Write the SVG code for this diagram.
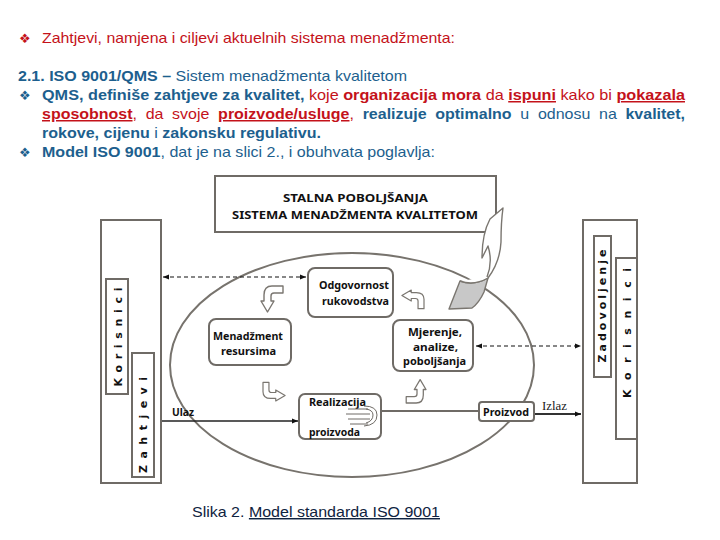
<svg xmlns="http://www.w3.org/2000/svg" xmlns:xlink="http://www.w3.org/1999/xlink" width="720" height="540" viewBox="0 0 720 540">
<style>
.hd{font-family:"Liberation Sans",Arial,sans-serif;font-size:15px}
.r{fill:#c4121a}
.b{fill:#1d5f8e}
.bd{font-weight:bold}
.u{text-decoration:underline}
.bul{font-family:"DejaVu Sans",sans-serif;font-size:13px}
.box{fill:#fff;stroke:#6f6b66;stroke-width:2}
.rbox{fill:#fff;stroke:#6f6b66;stroke-width:2}
.lb{font-family:"Noto Sans","DejaVu Sans",sans-serif;font-weight:bold;font-size:11px;fill:#111}
.vt{font-family:"DejaVu Sans",sans-serif;font-weight:bold;font-size:11px;fill:#111}
.ba{fill:#fff;stroke:#7a7670;stroke-width:1.4;stroke-linejoin:round}
.dash{stroke:#111;stroke-width:1.2;stroke-dasharray:4 3;fill:none}
</style>
<defs>
<marker id="ah" viewBox="0 0 10 10" refX="10" refY="5" markerWidth="6" markerHeight="6" orient="auto-start-reverse" markerUnits="userSpaceOnUse">
<path d="M0 1 L10 5 L0 9 Z" fill="#111"/>
</marker>
<path id="barrow" d="M22 0 L11 0 Q3 0 3 9 L3 15 L0 15 L6.5 26 L13 15 L10 15 L10 10 Q10 7 13 7 L22 7 Z"/>
</defs>

<g id="heading">
<text class="bul r" x="19" y="43">❖</text>
<text class="hd r" x="42" y="43" textLength="413" lengthAdjust="spacingAndGlyphs">Zahtjevi, namjena i ciljevi aktuelnih sistema menadžmenta:</text>
<text class="hd b" x="18" y="81" textLength="389" lengthAdjust="spacingAndGlyphs"><tspan class="bd">2.1. ISO 9001/QMS –</tspan> Sistem menadžmenta kvalitetom</text>
<text class="bul b" x="19" y="100">❖</text>
<text class="hd" x="42" y="100" textLength="643" lengthAdjust="spacingAndGlyphs"><tspan class="b bd">QMS, definiše zahtjeve za kvalitet,</tspan><tspan class="r"> koje </tspan><tspan class="r bd">organizacija mora</tspan><tspan class="r"> da </tspan><tspan class="r bd u">ispuni</tspan><tspan class="r"> kako bi </tspan><tspan class="r bd u">pokazala</tspan></text>
<text class="hd" x="42" y="119" textLength="643" lengthAdjust="spacingAndGlyphs" word-spacing="4"><tspan class="r bd u">sposobnost</tspan><tspan class="r">, da svoje </tspan><tspan class="r bd u">proizvode/usluge</tspan><tspan class="r">,</tspan><tspan class="b bd"> realizuje optimalno</tspan><tspan class="b"> u odnosu na </tspan><tspan class="b bd">kvalitet,</tspan></text>
<text class="hd b" x="42" y="138" textLength="279" lengthAdjust="spacingAndGlyphs"><tspan class="bd">rokove, cijenu</tspan> i <tspan class="bd">zakonsku regulativu.</tspan></text>
<text class="bul b" x="19" y="157">❖</text>
<text class="hd b" x="42" y="157" textLength="393" lengthAdjust="spacingAndGlyphs"><tspan class="bd">Model ISO 9001</tspan>, dat je na slici 2., i obuhvata poglavlja:</text>
</g>

<g id="ellipse">
<ellipse cx="352" cy="365" rx="182" ry="112" fill="none" stroke="#77736d" stroke-width="2"/>
</g>

<g id="connectors">
<line class="dash" x1="163" y1="277" x2="306" y2="277" marker-start="url(#ah)" marker-end="url(#ah)"/>
<line class="dash" x1="476" y1="346" x2="581" y2="346" marker-start="url(#ah)" marker-end="url(#ah)"/>
<line x1="161" y1="421" x2="298" y2="421" stroke="#222" stroke-width="1.3" marker-end="url(#ah)"/>
<line x1="381" y1="411" x2="479" y2="411" stroke="#6f6b66" stroke-width="2"/>
<line x1="534" y1="414" x2="581" y2="414" stroke="#333" stroke-width="2" marker-end="url(#ah)"/>
<use xlink:href="#barrow" class="ba" transform="translate(261,286)"/>
<use xlink:href="#barrow" class="ba" transform="translate(424,290) rotate(90) scale(0.85)"/>
<use xlink:href="#barrow" class="ba" transform="translate(263,401) rotate(-90) scale(0.85)"/>
<use xlink:href="#barrow" class="ba" transform="translate(426,403) rotate(180) scale(0.9)"/>
</g>

<g id="top-box">
<rect class="box" x="215" y="176" width="281" height="56"/>
<text class="lb" x="355.5" y="202" text-anchor="middle" font-size="12.5" textLength="145" lengthAdjust="spacingAndGlyphs">STALNA POBOLJŠANJA</text>
<text class="lb" x="355" y="219" text-anchor="middle" font-size="12.5" textLength="246" lengthAdjust="spacingAndGlyphs">SISTEMA MENADŽMENTA KVALITETOM</text>
</g>

<g id="big-arrow">
<path d="M460 281 Q474 286 488 278 L484 292 Q479 303 472 308 L449 309 Z" fill="#c8c8c8" stroke="#7a7670" stroke-width="1.4" stroke-linejoin="round"/>
<path d="M460 281 Q474 286 488 278 Q500 262 501 242 Q501 222 503 208 L490 219 Q482 234 482 258 L488 246 Q493 262 487 277" fill="#fff" stroke="#7a7670" stroke-width="1.4" stroke-linejoin="round"/>
</g>

<g id="left-users">
<rect class="box" x="101" y="220" width="60" height="263"/>
<rect class="box" x="106" y="279" width="22" height="115"/>
<rect class="box" x="132" y="353" width="22" height="124"/>
<text class="vt" transform="translate(122,337) rotate(-90)" text-anchor="middle" textLength="99" lengthAdjust="spacing">Korisnici</text>
<text class="vt" transform="translate(147,425) rotate(-90)" text-anchor="middle" textLength="96" lengthAdjust="spacing">Zahtjevi</text>
</g>

<g id="right-users">
<rect class="box" x="583" y="220" width="54" height="263"/>
<rect class="box" x="594" y="236" width="17" height="141"/>
<rect class="box" x="616" y="258" width="21" height="181"/>
<text class="vt" transform="translate(606,306) rotate(-90)" text-anchor="middle" textLength="113" lengthAdjust="spacing">Zadovoljenje</text>
<text class="vt" transform="translate(631,333) rotate(-90)" text-anchor="middle" textLength="130" lengthAdjust="spacing">Korisnici</text>
</g>

<g id="odgovornost">
<rect class="rbox" x="308" y="268" width="85" height="49" rx="7"/>
<text class="lb" x="389" y="289" text-anchor="end" textLength="70" lengthAdjust="spacingAndGlyphs">Odgovornost</text>
<text class="lb" x="389" y="305" text-anchor="end" textLength="67" lengthAdjust="spacingAndGlyphs">rukovodstva</text>
</g>

<g id="menadzment">
<rect class="rbox" x="209" y="319" width="82" height="46" rx="7"/>
<text class="lb" x="248" y="340" text-anchor="middle" textLength="70" lengthAdjust="spacingAndGlyphs">Menadžment</text>
<text class="lb" x="248.5" y="355" text-anchor="middle" textLength="55" lengthAdjust="spacingAndGlyphs">resursima</text>
</g>

<g id="mjerenje">
<rect class="rbox" x="393" y="320" width="80" height="51" rx="7"/>
<text class="lb" x="435" y="336" text-anchor="middle" textLength="54" lengthAdjust="spacingAndGlyphs">Mjerenje,</text>
<text class="lb" x="435.5" y="351" text-anchor="middle" textLength="45" lengthAdjust="spacingAndGlyphs">analize,</text>
<text class="lb" x="434.5" y="365" text-anchor="middle" textLength="63" lengthAdjust="spacingAndGlyphs">poboljšanja</text>
</g>

<g id="realizacija">
<rect class="rbox" x="299" y="394" width="82" height="45" rx="6"/>
<text class="lb" x="309" y="406" textLength="57" lengthAdjust="spacingAndGlyphs">Realizacija</text>
<text class="lb" x="309" y="436" textLength="51" lengthAdjust="spacingAndGlyphs">proizvoda</text>
<g fill="none" stroke="#6f6b66" stroke-width="1">
<path d="M348 409 L368 409 M346 414 L370 414 M348 419 L370 419 M350 424 L368 424"/>
<path d="M364 406 Q377 406 377 415 Q377 425 364 426"/>
<path d="M366 409 Q373 410 373 415 Q373 421 366 423"/>
</g>
</g>

<g id="proizvod">
<rect class="rbox" x="479" y="402" width="55" height="19" rx="3"/>
<text class="lb" x="506" y="416" text-anchor="middle" textLength="46" lengthAdjust="spacingAndGlyphs">Proizvod</text>
</g>

<g id="io-labels">
<text class="lb" x="172" y="416" textLength="22" lengthAdjust="spacingAndGlyphs">Ulaz</text>
<text x="542" y="410" font-family="'Liberation Serif',serif" font-size="12" fill="#222" textLength="25" lengthAdjust="spacingAndGlyphs">Izlaz</text>
</g>

<g id="caption">
<text x="192" y="517" font-family="'Liberation Sans',Arial,sans-serif" font-size="14.5" fill="#0f2340" textLength="248" lengthAdjust="spacingAndGlyphs">Slika 2. <tspan class="u">Model standarda ISO 9001</tspan></text>
</g>
</svg>
